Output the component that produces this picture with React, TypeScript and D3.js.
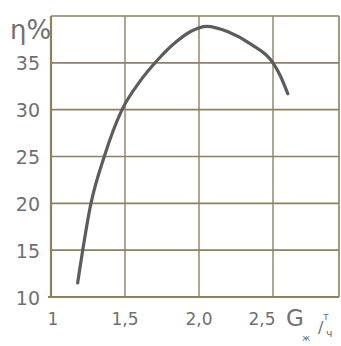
import React, { useEffect, useRef } from 'react';
import * as d3 from 'd3';

// efficiency curve
const gValues = [1.18, 1.27, 1.36, 1.48, 1.6, 1.72, 1.85, 1.95, 2.05, 2.2, 2.35, 2.5, 2.55, 2.6];
const etaValues = [11.5, 20, 25, 30, 33, 35.3, 37.3, 38.4, 38.9, 38.3, 37.0, 35.0, 33.6, 31.7];

const yTicks = [10, 15, 20, 25, 30, 35];
const yGrid = [15, 20, 25, 30, 35, 40];
const xTicks = [1, 1.5, 2.0, 2.5];
const xTickLabels = ['1', '1,5', '2,0', '2,5'];
const xGrid = [1.5, 2.0, 2.5];

const W = 341, H = 346;

function draw(el: SVGSVGElement) {
	const svg = d3.select(el);
	svg.selectAll('*').remove();

	const x = d3.scaleLinear().domain([1, 2.5]).range([51, 273]);
	const y = d3.scaleLinear().domain([10, 40]).range([297, 16]);
	const xEnd = 339;

	const gridColor = '#8b8163';
	const textColor = '#707070';

	const g = svg.append('g');

	// horizontal grid
	g.selectAll('.hgrid').data(yGrid).enter().append('line')
		.attr('x1', x(1)).attr('x2', xEnd)
		.attr('y1', d => y(d)).attr('y2', d => y(d))
		.attr('stroke', gridColor).attr('stroke-width', 1.6);

	// vertical grid
	g.selectAll('.vgrid').data(xGrid).enter().append('line')
		.attr('x1', d => x(d)).attr('x2', d => x(d))
		.attr('y1', y(40)).attr('y2', y(10))
		.attr('stroke', gridColor).attr('stroke-width', 1.4);

	// frame
	g.append('line').attr('x1', x(1)).attr('x2', x(1)).attr('y1', y(40)).attr('y2', y(10))
		.attr('stroke', gridColor).attr('stroke-width', 2.2);
	g.append('line').attr('x1', xEnd).attr('x2', xEnd).attr('y1', y(40)).attr('y2', y(10))
		.attr('stroke', gridColor).attr('stroke-width', 1.6);
	g.append('line').attr('x1', x(1) - 3).attr('x2', xEnd).attr('y1', y(10)).attr('y2', y(10))
		.attr('stroke', gridColor).attr('stroke-width', 2.2);

	// curve
	const line = d3.line<number>()
		.x((d, i) => x(gValues[i]))
		.y(d => y(d))
		.curve(d3.curveMonotoneX);
	g.append('path').datum(etaValues)
		.attr('d', line)
		.attr('fill', 'none')
		.attr('stroke', '#5c5c5c')
		.attr('stroke-width', 3.2)
		.attr('stroke-linecap', 'round');

	// y labels
	g.selectAll('.ylab').data(yTicks).enter().append('text')
		.attr('x', 40).attr('y', d => y(d) + 2)
		.attr('dominant-baseline', 'middle')
		.attr('text-anchor', 'end')
		.attr('font-family', 'DejaVu Sans')
		.attr('font-size', 19)
		.attr('fill', textColor)
		.text(d => String(d));

	// x labels
	g.selectAll('.xlab').data(xTicks).enter().append('text')
		.attr('x', (d, i) => x(d) + (i === 3 ? -11 : i === 0 ? 2 : 0))
		.attr('y', 320)
		.attr('dominant-baseline', 'middle')
		.attr('text-anchor', 'middle')
		.attr('font-family', 'DejaVu Sans')
		.attr('font-size', 17)
		.attr('fill', textColor)
		.text((d, i) => xTickLabels[i]);

	// axis titles
	g.append('text').attr('x', 10).attr('y', 39)
		.attr('font-family', 'DejaVu Sans').attr('font-size', 26).attr('fill', textColor)
		.text('η%');
	g.append('text').attr('x', 286).attr('y', 326)
		.attr('font-family', 'DejaVu Sans').attr('font-size', 23).attr('fill', textColor)
		.text('G');
	g.append('text').attr('x', 302).attr('y', 341)
		.attr('font-family', 'DejaVu Sans').attr('font-size', 9).attr('fill', textColor)
		.text('ж');
	g.append('text').attr('x', 323).attr('y', 320)
		.attr('font-family', 'DejaVu Sans').attr('font-size', 10).attr('fill', textColor)
		.text('т');
	g.append('text').attr('x', 318).attr('y', 333)
		.attr('font-family', 'DejaVu Sans').attr('font-size', 16).attr('fill', textColor)
		.text('/');
	g.append('text').attr('x', 326).attr('y', 337)
		.attr('font-family', 'DejaVu Sans').attr('font-size', 11).attr('fill', textColor)
		.text('ч');
}

export default function App() {
	const ref = useRef<SVGSVGElement>(null);
	useEffect(() => {
		if (ref.current) draw(ref.current);
	}, []);
	return (
		<svg ref={ref} width={W} height={H}
			style={{ position: 'absolute', left: 0, top: 0, background: '#fff' }} />
	);
}
